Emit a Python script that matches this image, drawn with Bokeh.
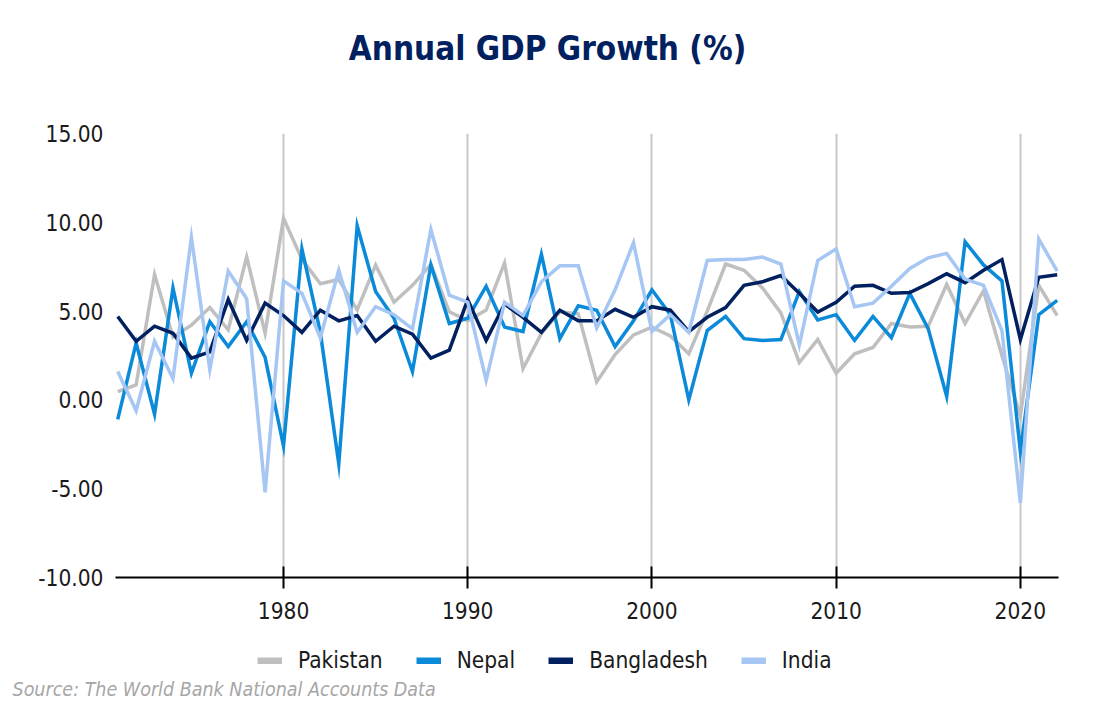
from bokeh.plotting import figure
from bokeh.models import (Range1d, FixedTicker, NumeralTickFormatter, Label,
                          Legend, LegendItem, Title)
from bokeh.layouts import column
from bokeh.embed import file_html
from bokeh.resources import INLINE

years = [1971, 1972, 1973, 1974, 1975, 1976, 1977, 1978, 1979, 1980,
         1981, 1982, 1983, 1984, 1985, 1986, 1987, 1988, 1989, 1990,
         1991, 1992, 1993, 1994, 1995, 1996, 1997, 1998, 1999, 2000,
         2001, 2002, 2003, 2004, 2005, 2006, 2007, 2008, 2009, 2010,
         2011, 2012, 2013, 2014, 2015, 2016, 2017, 2018, 2019, 2020,
         2021, 2022]

pakistan = [0.47, 0.84, 7.06, 3.54, 4.21, 5.20, 3.95, 8.05, 3.76, 10.22,
            7.92, 6.54, 6.78, 5.07, 7.59, 5.50, 6.45, 7.63, 4.96, 4.46,
            5.06, 7.71, 1.76, 3.74, 4.96, 4.85, 1.01, 2.55, 3.66, 4.10,
            3.60, 2.60, 5.00, 7.65, 7.30, 6.30, 4.90, 2.10, 3.40, 1.50,
            2.60, 2.95, 4.30, 4.10, 4.15, 6.50, 4.30, 6.15, 2.50, -0.90,
            6.45, 4.75]

nepal = [-1.10, 3.20, -0.80, 6.30, 1.50, 4.40, 3.00, 4.40, 2.40, -2.60,
         8.50, 3.80, -3.60, 9.80, 6.10, 4.60, 1.60, 7.60, 4.30, 4.60,
         6.40, 4.10, 3.85, 8.20, 3.45, 5.30, 5.05, 3.00, 4.45, 6.20,
         4.80, 0.00, 3.90, 4.70, 3.45, 3.35, 3.40, 6.10, 4.50, 4.80,
         3.35, 4.70, 3.50, 6.00, 4.00, 0.20, 8.90, 7.60, 6.70, -2.90,
         4.80, 5.60]

bangladesh = [4.70, 3.30, 4.15, 3.75, 2.35, 2.70, 5.65, 3.35, 5.45, 4.75,
              3.80, 5.05, 4.45, 4.75, 3.30, 4.15, 3.70, 2.35, 2.80, 5.65,
              3.35, 5.40, 4.65, 3.80, 5.05, 4.45, 4.45, 5.10, 4.65, 5.25,
              5.05, 3.85, 4.65, 5.20, 6.45, 6.65, 7.00, 6.00, 4.95, 5.50,
              6.40, 6.45, 6.00, 6.05, 6.55, 7.10, 6.60, 7.30, 7.90, 3.40,
              6.90, 7.05]

india = [1.60, -0.60, 3.30, 1.20, 9.15, 1.70, 7.25, 5.70, -5.20, 6.70,
         6.00, 3.50, 7.30, 3.80, 5.25, 4.80, 4.00, 9.60, 5.90, 5.50,
         1.10, 5.50, 4.75, 6.65, 7.55, 7.55, 4.05, 6.20, 8.85, 3.85,
         4.80, 3.80, 7.85, 7.90, 7.90, 8.05, 7.65, 3.10, 7.85, 8.50,
         5.25, 5.45, 6.40, 7.40, 8.00, 8.25, 6.80, 6.45, 3.90, -5.80,
         9.05, 7.25]

series_names = ["Pakistan", "Nepal", "Bangladesh", "India"]
series_values = [pakistan, nepal, bangladesh, india]
series_colors = ["#bfbfbf", "#0a8ad8", "#002060", "#a6c6f4"]

x_ticks = [1980, 1990, 2000, 2010, 2020]
y_ticks = [-10, -5, 0, 5, 10, 15]

FONT = "DejaVu Sans Condensed"
W = 1078
FL, FR = 115, 1058   # frame left / right in page pixels


def blank_fig(h, **kw):
    f = figure(width=W, height=h, output_backend="svg", toolbar_location=None,
               x_range=Range1d(FL, FR), y_range=Range1d(0, h),
               x_axis_type=None, y_axis_type=None, title_location=None,
               min_border_left=FL, min_border_right=W - FR,
               min_border_top=0, min_border_bottom=0, **kw)
    f.outline_line_color = None
    f.xgrid.visible = False
    f.ygrid.visible = False
    return f


# ---- top strip: title
top = blank_fig(100)
top.add_layout(Label(x=547, y=52, text="Annual GDP Growth (%)",
                     text_align="center", text_baseline="alphabetic",
                     text_font=FONT, text_font_style="bold",
                     text_font_size="33px", text_color="#002060"))

# ---- main chart
p = figure(width=W, height=540, output_backend="svg", toolbar_location=None,
           x_range=Range1d(1970.88, 2022.07), y_range=Range1d(-10, 15),
           title_location=None,
           min_border_left=FL, min_border_right=W - FR,
           min_border_top=33, min_border_bottom=63)
p.outline_line_color = None

p.xaxis.ticker = FixedTicker(ticks=x_ticks)
p.xaxis.axis_line_color = "black"
p.xaxis.axis_line_width = 2
p.xaxis.major_tick_line_color = "black"
p.xaxis.major_tick_line_width = 2
p.xaxis.major_tick_in = 11
p.xaxis.major_tick_out = 11
p.xaxis.minor_tick_line_color = None
p.xaxis.major_label_standoff = 13
p.xaxis.major_label_text_font = FONT
p.xaxis.major_label_text_font_size = "22.5px"
p.xaxis.major_label_text_color = "#1a1a1a"

p.yaxis.ticker = FixedTicker(ticks=y_ticks)
p.yaxis.formatter = NumeralTickFormatter(format="0.00")
p.yaxis.axis_line_color = None
p.yaxis.major_tick_line_color = None
p.yaxis.minor_tick_line_color = None
p.yaxis.major_tick_out = 0
p.yaxis.major_tick_in = 0
p.yaxis.major_label_standoff = 12
p.yaxis.major_label_text_font = FONT
p.yaxis.major_label_text_font_size = "22.5px"
p.yaxis.major_label_text_color = "#1a1a1a"

p.xgrid.ticker = FixedTicker(ticks=x_ticks)
p.xgrid.grid_line_color = "#c8c8c8"
p.xgrid.grid_line_width = 2
p.ygrid.grid_line_color = None

for name, vals, col in zip(series_names, series_values, series_colors):
    p.line(years, vals, line_color=col, line_width=3.5, line_join="miter")

# ---- bottom strip: legend + source
bot = blank_fig(60)
items = []
for name, col in zip(series_names, series_colors):
    r = bot.line([0, 10], [-50, -50], line_color=col, line_width=7,
                 line_cap="butt")
    items.append(LegendItem(label=name, renderers=[r]))

source = Title(text="Source: The World Bank National Accounts Data",
               align="left", offset=-103, standoff=0,
               text_font=FONT, text_font_style="italic",
               text_font_size="19.5px", text_color="#a6a6a6")
bot.add_layout(source, "below")

legend = Legend(items=items, orientation="horizontal", location=(142, 2),
                glyph_width=25, glyph_height=7, label_standoff=16, spacing=33,
                padding=0, margin=0, border_line_color=None,
                background_fill_alpha=0,
                label_text_font=FONT, label_text_font_size="22.5px",
                label_text_color="#1a1a1a")
bot.add_layout(legend, "center")

layout = column(top, p, bot, spacing=0)
open("out.html", "w").write(file_html(layout, INLINE))
